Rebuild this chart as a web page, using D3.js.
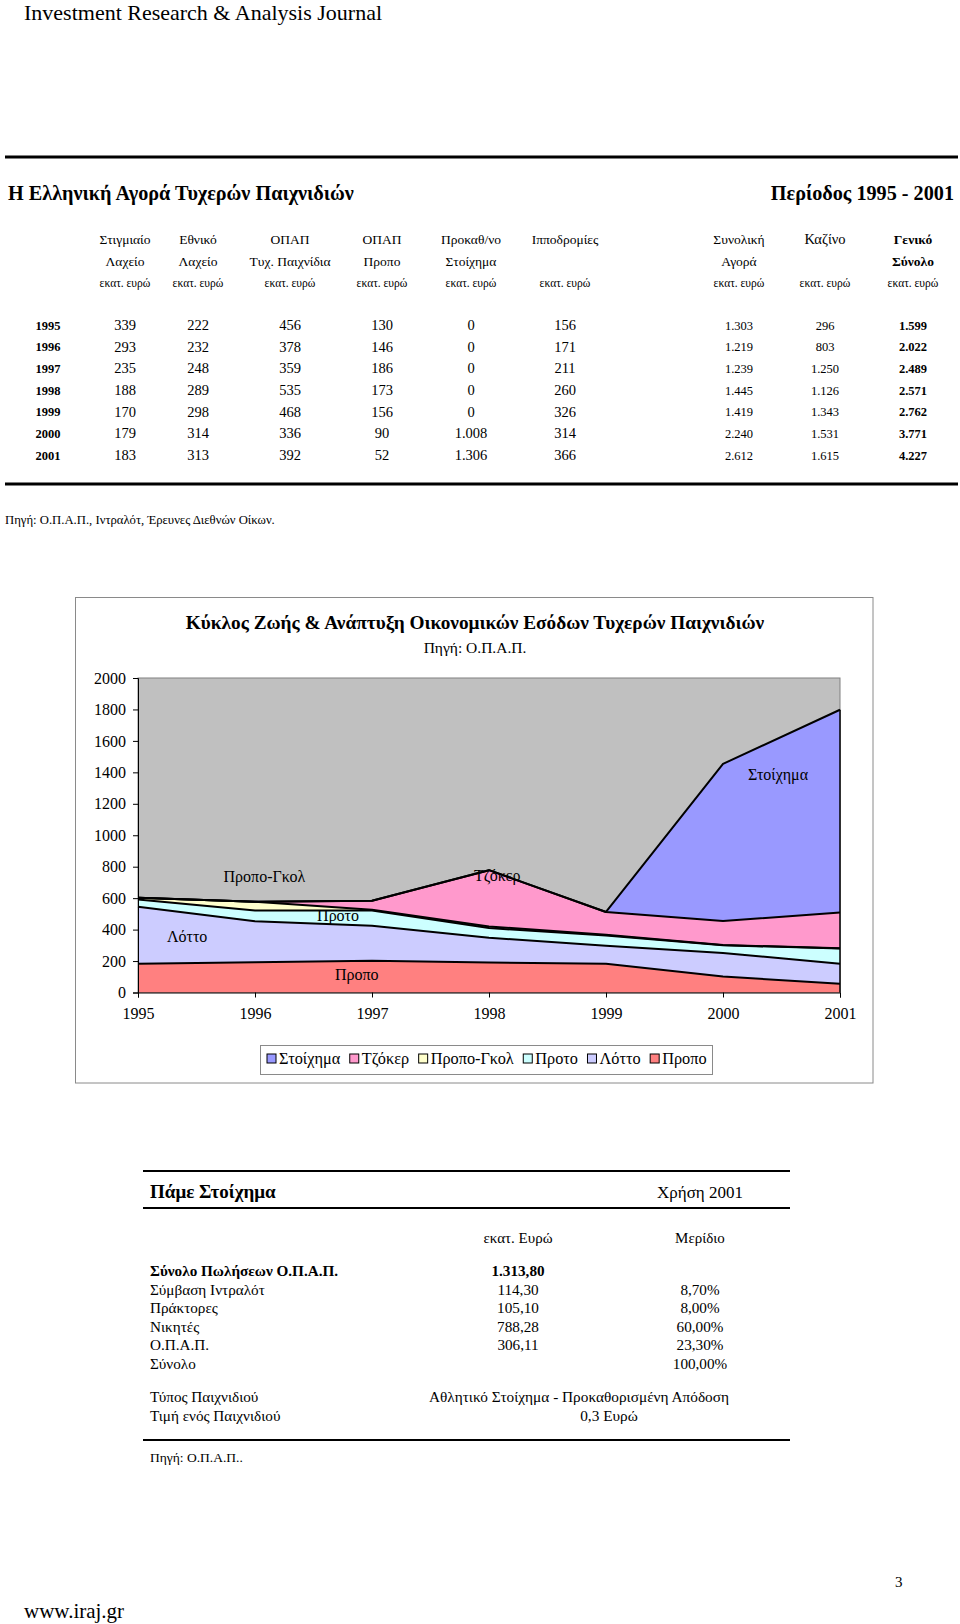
<!DOCTYPE html>
<html><head><meta charset="utf-8">
<script src="https://cdn.jsdelivr.net/npm/d3@7"></script>
<style>
body{margin:0;background:#fff}
svg{display:block}
text{font-family:"Liberation Serif","Times New Roman",serif;fill:#000}
</style>
</head><body>
<svg id="page" width="960" height="1624"></svg>
<script>
// ---------- DATA ----------
const years = ["1995","1996","1997","1998","1999","2000","2001"];
// market table (εκατ. ευρώ)
const stigmiaio   = [339,293,235,188,170,179,183];
const ethniko     = [222,232,248,289,298,314,313];
const tyxPaixnidia= [456,378,359,535,468,336,392];
const opapPropo   = [130,146,186,173,156,90,52];
const prokathStoix= [0,0,0,0,0,1008,1306];
const ippodromies = [156,171,211,260,326,314,366];
const synoliki    = [1303,1219,1239,1445,1419,2240,2612];
const kazino      = [296,803,1250,1126,1343,1531,1615];
const geniko      = [1599,2022,2489,2571,2762,3771,4227];
const headRow1 = ["Στιγμιαίο","Εθνικό","ΟΠΑΠ","ΟΠΑΠ","Προκαθ/νο","Ιπποδρομίες","Συνολική","Καζίνο","Γενικό"];
const headRow2 = ["Λαχείο","Λαχείο","Τυχ. Παιχνίδια","Προπο","Στοίχημα","","Αγορά","","Σύνολο"];
const unitLabel = "εκατ. ευρώ";

// chart series (stacked, bottom to top)
const seriesNames = ["Προπο","Λόττο","Προτο","Προπο-Γκολ","Τζόκερ","Στοίχημα"];
const propo     = [183,193,202,190,183,102,55];
const lotto     = [362,260,223,158,115,149,128];
const proto     = [46,68,96,62,64,49,97];
const propoGkol = [11,56,6,10,5,2,1];
const tzoker    = [0,0,57,358,145,153,227];
const stoixima  = [0,0,0,0,0,999,1290];
const yTicks = [0,200,400,600,800,1000,1200,1400,1600,1800,2000];
const legendOrder = ["Στοίχημα","Τζόκερ","Προπο-Γκολ","Προτο","Λόττο","Προπο"];

// Πάμε Στοίχημα table
const pameLabels = ["Σύνολο Πωλήσεων Ο.Π.Α.Π.","Σύμβαση Ιντραλότ","Πράκτορες","Νικητές","Ο.Π.Α.Π.","Σύνολο"];
const pameValues = ["1.313,80","114,30","105,10","788,28","306,11",""];
const pameShares = ["","8,70%","8,00%","60,00%","23,30%","100,00%"];

// ---------- STYLE ----------
const colors = {"Στοίχημα":"#9999ff","Τζόκερ":"#ff99cc","Προπο-Γκολ":"#ffffcc","Προτο":"#ccffff","Λόττο":"#ccccff","Προπο":"#ff8080"};
const svg = d3.select("#page");
const loc = d3.formatLocale({decimal:",",thousands:".",grouping:[3],currency:["","€"]});
const fmt = loc.format(",d");

// ---------- HEADER ----------
svg.append("text").attr("x",24).attr("y",20).attr("font-size",22).text("Investment Research & Analysis Journal");
svg.append("line").attr("x1",5).attr("x2",958).attr("y1",157).attr("y2",157).attr("stroke","#000").attr("stroke-width",3);
svg.append("text").attr("x",8).attr("y",200).attr("font-size",20.2).attr("font-weight","bold").text("Η Ελληνική Αγορά Τυχερών Παιχνιδιών");
svg.append("text").attr("x",954).attr("y",200).attr("font-size",20.2).attr("font-weight","bold").attr("text-anchor","end").text("Περίοδος 1995 - 2001");

const colX = [125,198,290,382,471,565,739,825,913];
const hdr = svg.append("g").attr("text-anchor","middle");
headRow1.forEach((t,i)=>{
  hdr.append("text").attr("x",colX[i]).attr("y",244).attr("font-size", i===7?14.5:13.5)
    .attr("font-family", i===7?"Liberation Sans, Arial, sans-serif":null)
    .attr("font-weight", i===8?"bold":null).text(t);
  if(headRow2[i]) hdr.append("text").attr("x",colX[i]).attr("y",266).attr("font-size",13.5)
    .attr("font-weight", i===8?"bold":null).text(headRow2[i]);
  hdr.append("text").attr("x",colX[i]).attr("y",287).attr("font-size",11.5).text(unitLabel);
});

const cols = [stigmiaio,ethniko,tyxPaixnidia,opapPropo,prokathStoix,ippodromies,synoliki,kazino,geniko];
const rowY = d3.scalePoint().domain(years).range([325,455]);
const body = svg.append("g").attr("text-anchor","middle");
years.forEach((y,r)=>{
  body.append("text").attr("x",48).attr("y",rowY(y)+4.5).attr("font-size",12.5).attr("font-weight","bold").text(y);
  cols.forEach((c,i)=>{
    const small = i>=6;
    body.append("text").attr("x",colX[i]).attr("y",rowY(y)+(small?4.5:5))
      .attr("font-size", small?12.5:14.5).attr("font-weight", i===8?"bold":null).text(fmt(c[r]));
  });
});
svg.append("line").attr("x1",5).attr("x2",958).attr("y1",484).attr("y2",484).attr("stroke","#000").attr("stroke-width",3);
svg.append("text").attr("x",5).attr("y",524).attr("font-size",12.7).text("Πηγή: Ο.Π.Α.Π., Ιντραλότ, Έρευνες Διεθνών Οίκων.");

// ---------- CHART ----------
svg.append("rect").attr("x",75.5).attr("y",597.5).attr("width",797.5).attr("height",485.5)
  .attr("fill","#fff").attr("stroke","#8a8a8a").attr("stroke-width",1);
svg.append("text").attr("x",475).attr("y",629).attr("text-anchor","middle").attr("font-size",19.3).attr("font-weight","bold")
  .text("Κύκλος Ζωής & Ανάπτυξη Οικονομικών Εσόδων Τυχερών Παιχνιδιών");
svg.append("text").attr("x",475).attr("y",653).attr("text-anchor","middle").attr("font-size",15.5).text("Πηγή: Ο.Π.Α.Π.");

const x = d3.scalePoint().domain(years).range([138,840]);
const xLin = d3.scaleLinear().domain([1995,2001]).range([138,840]);
const y = d3.scaleLinear().domain([0,2000]).range([992.5,678]);

svg.append("rect").attr("x",138).attr("y",y(2000)).attr("width",840-138).attr("height",y(0)-y(2000))
  .attr("fill","#c0c0c0").attr("stroke","#808080").attr("stroke-width",1);

const table = years.map((yr,i)=>({year:yr,"Προπο":propo[i],"Λόττο":lotto[i],"Προτο":proto[i],"Προπο-Γκολ":propoGkol[i],"Τζόκερ":tzoker[i],"Στοίχημα":stoixima[i]}));
const stacked = d3.stack().keys(seriesNames)(table);
const area = d3.area().x(d=>x(d.data.year)).y0(d=>y(d[0])).y1(d=>y(d[1]));
const line = d3.line().x(d=>x(d.data.year)).y(d=>y(d[1]));
svg.append("g").selectAll("path").data(stacked).join("path")
  .attr("d",area).attr("fill",d=>colors[d.key]);
svg.append("g").selectAll("path").data(stacked).join("path")
  .attr("d",line).attr("fill","none").attr("stroke","#000").attr("stroke-width",2).attr("stroke-linejoin","round");
// right edge of stoixima
svg.append("line").attr("x1",x("2001")).attr("x2",x("2001")).attr("y1",y(0)).attr("y2",y(d3.sum(seriesNames,k=>table[6][k])))
  .attr("stroke","#000").attr("stroke-width",1.5);

const yAxis = d3.axisLeft(y).tickValues(yTicks).tickSize(5).tickPadding(7).tickFormat(d3.format("d"));
const ga = svg.append("g").attr("transform",`translate(138,0)`).call(yAxis);
ga.selectAll("text").attr("font-size",16).attr("font-family","Liberation Serif, Times New Roman, serif");
ga.select(".domain").attr("stroke","#000");
const xAxis = d3.axisBottom(x).tickSize(5).tickPadding(9);
const gx = svg.append("g").attr("transform",`translate(0,${y(0)})`).call(xAxis);
gx.selectAll("text").attr("font-size",16).attr("font-family","Liberation Serif, Times New Roman, serif").attr("dy","0.75em");
gx.select(".domain").attr("stroke","#000");

const annots = [
  {t:"Στοίχημα",yr:2000.47,v:1388},
  {t:"Προπο-Γκολ",yr:1996.08,v:737},
  {t:"Τζόκερ",yr:1998.07,v:744},
  {t:"Προτο",yr:1996.71,v:488},
  {t:"Λόττο",yr:1995.42,v:354},
  {t:"Προπο",yr:1996.87,v:112}
];
svg.append("g").selectAll("text").data(annots).join("text")
  .attr("x",d=>xLin(d.yr)).attr("y",d=>y(d.v)).attr("dy","0.35em").attr("text-anchor","middle")
  .attr("font-size",16).text(d=>d.t);

// legend
const lg = svg.append("g");
lg.append("rect").attr("x",260.5).attr("y",1045.5).attr("width",452).attr("height",29).attr("fill","#fff").attr("stroke","#8a8a8a");
let lx = 267;
legendOrder.forEach(k=>{
  lg.append("rect").attr("x",lx).attr("y",1054).attr("width",9).attr("height",9).attr("fill",colors[k]).attr("stroke","#000");
  const tx = lg.append("text").attr("x",lx+12).attr("y",1064).attr("font-size",16.3).text(k);
  lx += 12 + tx.node().getComputedTextLength() + 9.5;
});

// ---------- ΠΑΜΕ ΣΤΟΙΧΗΜΑ ----------
svg.append("line").attr("x1",143).attr("x2",790).attr("y1",1171).attr("y2",1171).attr("stroke","#000").attr("stroke-width",2);
svg.append("text").attr("x",150).attr("y",1198).attr("font-size",19).attr("font-weight","bold").text("Πάμε Στοίχημα");
svg.append("text").attr("x",700).attr("y",1198).attr("text-anchor","middle").attr("font-size",17).text("Χρήση 2001");
svg.append("line").attr("x1",143).attr("x2",790).attr("y1",1208).attr("y2",1208).attr("stroke","#000").attr("stroke-width",2);
svg.append("text").attr("x",518).attr("y",1243).attr("text-anchor","middle").attr("font-size",15).text("εκατ. Ευρώ");
svg.append("text").attr("x",700).attr("y",1243).attr("text-anchor","middle").attr("font-size",15).text("Μερίδιο");
const pr = d3.scaleLinear().domain([0,5]).range([1271,1364]);
pameLabels.forEach((l,i)=>{
  const b = i===0?"bold":null;
  svg.append("text").attr("x",150).attr("y",pr(i)+5).attr("font-size",15.2).attr("font-weight",b).text(l);
  svg.append("text").attr("x",518).attr("y",pr(i)+5).attr("text-anchor","middle").attr("font-size",15.2).attr("font-weight",b).text(pameValues[i]);
  svg.append("text").attr("x",700).attr("y",pr(i)+5).attr("text-anchor","middle").attr("font-size",15.2).text(pameShares[i]);
});
svg.append("text").attr("x",150).attr("y",1402).attr("font-size",15.2).text("Τύπος Παιχνιδιού");
svg.append("text").attr("x",150).attr("y",1421).attr("font-size",15.2).text("Τιμή ενός Παιχνιδιού");
svg.append("text").attr("x",579).attr("y",1402).attr("text-anchor","middle").attr("font-size",15.3).text("Αθλητικό Στοίχημα - Προκαθορισμένη Απόδοση");
svg.append("text").attr("x",609).attr("y",1421).attr("text-anchor","middle").attr("font-size",15.3).text("0,3 Ευρώ");
svg.append("line").attr("x1",143).attr("x2",790).attr("y1",1440).attr("y2",1440).attr("stroke","#000").attr("stroke-width",2);
svg.append("text").attr("x",150).attr("y",1462).attr("font-size",13.5).text("Πηγή: Ο.Π.Α.Π..");

// footer
svg.append("text").attr("x",895).attr("y",1587).attr("font-size",15).text("3");
svg.append("text").attr("x",24).attr("y",1618).attr("font-size",21).text("www.iraj.gr");
</script>
</body></html>
